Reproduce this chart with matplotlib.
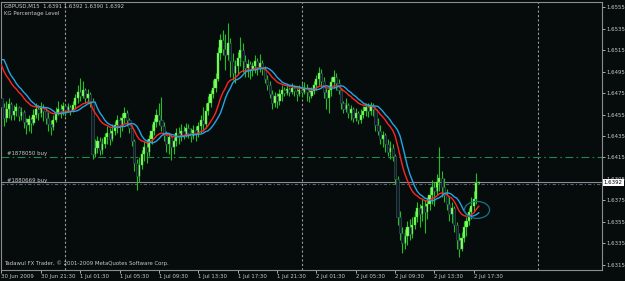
"""Recreate a MetaTrader GBPUSD M15 chart snapshot."""

import matplotlib

matplotlib.use("Agg")

import matplotlib.pyplot as plt
import numpy as np
from matplotlib import font_manager
from matplotlib.patches import Ellipse
from matplotlib.transforms import blended_transform_factory

SYMBOL = "GBPUSD,M15"
LAST_OHLC = [1.6391, 1.6392, 1.6390, 1.6392]
INDICATOR = "KG Percentage Level"
FOOTER = "Tadawul FX Trader, \u00a9 2001-2009 MetaQuotes Software Corp."

first_open = 1.6470
closes = [
    1.6462, 1.6452, 1.6460, 1.6465, 1.6455, 1.6458, 1.6462, 1.6454, 1.6457, 1.6448,
    1.6445, 1.6451, 1.6447, 1.6455, 1.6460, 1.6456, 1.6462, 1.6458, 1.6452, 1.6446,
    1.6443, 1.6450, 1.6456, 1.6460, 1.6458, 1.6463, 1.6459, 1.6462, 1.6458, 1.6464,
    1.6470, 1.6476, 1.6472, 1.6478, 1.6470, 1.6474, 1.6468, 1.6418, 1.6424, 1.6430,
    1.6422, 1.6428, 1.6434, 1.6438, 1.6432, 1.6440, 1.6445, 1.6450, 1.6444, 1.6452,
    1.6456, 1.6450, 1.6442, 1.6430, 1.6410, 1.6398, 1.6408, 1.6418, 1.6425, 1.6420,
    1.6432, 1.6440, 1.6448, 1.6455, 1.6450, 1.6444, 1.6436, 1.6428, 1.6434, 1.6425,
    1.6430, 1.6438, 1.6434, 1.6440, 1.6436, 1.6442, 1.6438, 1.6435, 1.6441, 1.6437,
    1.6444, 1.6450, 1.6446, 1.6458, 1.6466, 1.6474, 1.6480, 1.6488, 1.6512, 1.6524,
    1.6516, 1.6510, 1.6522, 1.6505, 1.6494, 1.6500, 1.6508, 1.6515, 1.6505, 1.6498,
    1.6502, 1.6496, 1.6500, 1.6505, 1.6499, 1.6503, 1.6497, 1.6488, 1.6482, 1.6474,
    1.6466, 1.6472, 1.6468, 1.6474, 1.6478, 1.6475, 1.6479, 1.6476, 1.6480, 1.6477,
    1.6474, 1.6478, 1.6476, 1.6480, 1.6476, 1.6472, 1.6477, 1.6482, 1.6488, 1.6494,
    1.6486, 1.6476, 1.6470, 1.6478, 1.6485, 1.6490, 1.6484, 1.6478, 1.6466, 1.6460,
    1.6464, 1.6456, 1.6460, 1.6452, 1.6456, 1.6450, 1.6455, 1.6458, 1.6462, 1.6458,
    1.6463, 1.6460, 1.6445, 1.6440, 1.6432, 1.6436, 1.6428, 1.6420, 1.6424, 1.6416,
    1.6395, 1.6360, 1.6345, 1.6335, 1.6342, 1.6350, 1.6344, 1.6352, 1.6360, 1.6368,
    1.6362, 1.6370, 1.6364, 1.6372, 1.6380, 1.6388, 1.6384, 1.6392, 1.6396, 1.6388,
    1.6380, 1.6372, 1.6362, 1.6368, 1.6352, 1.6338, 1.6330, 1.6340, 1.6350, 1.6356,
    1.6364, 1.6370, 1.6376, 1.6391, 1.6392,
]
highs = [
    1.6478, 1.6466, 1.6468, 1.6470, 1.6467, 1.6464, 1.6466, 1.6463, 1.6462, 1.6459,
    1.6452, 1.6455, 1.6453, 1.6460, 1.6466, 1.6464, 1.6467, 1.6465, 1.6461, 1.6457,
    1.6450, 1.6455, 1.6462, 1.6468, 1.6465, 1.6467, 1.6465, 1.6466, 1.6464, 1.6468,
    1.6474, 1.6482, 1.6489, 1.6486, 1.6480, 1.6479, 1.6476, 1.6470, 1.6432, 1.6435,
    1.6434, 1.6433, 1.6438, 1.6444, 1.6442, 1.6446, 1.6449, 1.6455, 1.6453, 1.6456,
    1.6462, 1.6459, 1.6452, 1.6445, 1.6432, 1.6414, 1.6415, 1.6422, 1.6430, 1.6432,
    1.6436, 1.6446, 1.6452, 1.6460, 1.6466, 1.6471, 1.6448, 1.6440, 1.6438, 1.6436,
    1.6434, 1.6442, 1.6443, 1.6446, 1.6444, 1.6447, 1.6446, 1.6442, 1.6445, 1.6444,
    1.6448, 1.6455, 1.6462, 1.6466, 1.6472, 1.6478, 1.6487, 1.6494, 1.6518, 1.6530,
    1.6534, 1.6530, 1.6540, 1.6526, 1.6512, 1.6506, 1.6513, 1.6527, 1.6522, 1.6510,
    1.6507, 1.6505, 1.6504, 1.6510, 1.6508, 1.6511, 1.6506, 1.6500, 1.6492, 1.6486,
    1.6478, 1.6476, 1.6475, 1.6479, 1.6482, 1.6481, 1.6483, 1.6481, 1.6484, 1.6482,
    1.6480, 1.6482, 1.6484, 1.6485, 1.6483, 1.6480, 1.6481, 1.6486, 1.6492, 1.6499,
    1.6497, 1.6490, 1.6480, 1.6482, 1.6490, 1.6496, 1.6494, 1.6488, 1.6480, 1.6468,
    1.6470, 1.6466, 1.6464, 1.6462, 1.6461, 1.6458, 1.6460, 1.6463, 1.6466, 1.6466,
    1.6467, 1.6466, 1.6462, 1.6452, 1.6445, 1.6440, 1.6438, 1.6432, 1.6430, 1.6428,
    1.6418, 1.6398, 1.6365, 1.6350, 1.6348, 1.6356, 1.6358, 1.6360, 1.6365, 1.6374,
    1.6372, 1.6376, 1.6375, 1.6378, 1.6388, 1.6394, 1.6392, 1.6400, 1.6425, 1.6402,
    1.6396, 1.6386, 1.6378, 1.6374, 1.6370, 1.6355, 1.6345, 1.6346, 1.6356, 1.6360,
    1.6368, 1.6378, 1.6384, 1.6401, 1.6392,
]
lows = [
    1.6441, 1.6444, 1.6448, 1.6452, 1.6450, 1.6450, 1.6454, 1.6449, 1.6450, 1.6442,
    1.6437, 1.6440, 1.6438, 1.6445, 1.6452, 1.6450, 1.6453, 1.6449, 1.6446, 1.6440,
    1.6436, 1.6441, 1.6448, 1.6455, 1.6452, 1.6455, 1.6454, 1.6457, 1.6455, 1.6457,
    1.6461, 1.6466, 1.6468, 1.6470, 1.6466, 1.6466, 1.6462, 1.6414, 1.6415, 1.6419,
    1.6417, 1.6418, 1.6424, 1.6428, 1.6427, 1.6430, 1.6436, 1.6438, 1.6434, 1.6440,
    1.6447, 1.6444, 1.6438, 1.6426, 1.6402, 1.6385, 1.6392, 1.6404, 1.6412, 1.6410,
    1.6416, 1.6428, 1.6436, 1.6443, 1.6445, 1.6440, 1.6430, 1.6420, 1.6418, 1.6413,
    1.6418, 1.6426, 1.6428, 1.6430, 1.6432, 1.6434, 1.6433, 1.6429, 1.6432, 1.6430,
    1.6434, 1.6438, 1.6440, 1.6442, 1.6455, 1.6462, 1.6470, 1.6476, 1.6486, 1.6506,
    1.6510, 1.6496, 1.6506, 1.6490, 1.6487, 1.6484, 1.6492, 1.6500, 1.6495, 1.6490,
    1.6490, 1.6488, 1.6491, 1.6494, 1.6492, 1.6495, 1.6492, 1.6484, 1.6478, 1.6470,
    1.6460, 1.6462, 1.6461, 1.6464, 1.6468, 1.6472, 1.6473, 1.6472, 1.6474, 1.6472,
    1.6468, 1.6472, 1.6471, 1.6474, 1.6468, 1.6467, 1.6470, 1.6474, 1.6478, 1.6482,
    1.6481, 1.6470, 1.6460, 1.6456, 1.6472, 1.6480, 1.6478, 1.6474, 1.6460, 1.6456,
    1.6457, 1.6452, 1.6450, 1.6448, 1.6449, 1.6446, 1.6447, 1.6452, 1.6454, 1.6453,
    1.6455, 1.6454, 1.6440, 1.6436, 1.6428, 1.6425, 1.6420, 1.6416, 1.6414, 1.6412,
    1.6390, 1.6352, 1.6338, 1.6326, 1.6330, 1.6334, 1.6338, 1.6340, 1.6348, 1.6355,
    1.6350, 1.6356, 1.6345, 1.6358, 1.6366, 1.6372, 1.6370, 1.6380, 1.6384, 1.6378,
    1.6374, 1.6366, 1.6356, 1.6354, 1.6346, 1.6330, 1.6322, 1.6328, 1.6336, 1.6342,
    1.6352, 1.6358, 1.6365, 1.6372, 1.6390,
]

# moving average: starting level, length and shift of the slow copy
ma_seed = 1.6506
ma_period = 16
ma_shift = 2

price_ticks = [
    1.6555, 1.6535, 1.6515, 1.6495, 1.6475, 1.6455, 1.6435,
    1.6415, 1.6395, 1.6375, 1.6355, 1.6335, 1.6315,
]
time_labels = [
    "30 Jun 2009", "30 Jun 21:30", "1 Jul 01:30", "1 Jul 05:30", "1 Jul 09:30",
    "1 Jul 13:30", "1 Jul 17:30", "1 Jul 21:30", "2 Jul 01:30", "2 Jul 05:30",
    "2 Jul 09:30", "2 Jul 13:30", "2 Jul 17:30",
]
bars_per_label = 16
day_breaks = [26, 122, 218]

order_levels = [1.6415, 1.6390]
order_names = ["#1878050 buy", "#1880669 buy"]
bid_price = 1.6392

BG = "#060c0c"
FG = "#c8c8c8"


def pick_font():
    """Narrow font if present, otherwise a smaller DejaVu."""
    try:
        font_manager.findfont("Liberation Sans Narrow", fallback_to_default=False)
        return ["Liberation Sans Narrow", "DejaVu Sans"], 4.9
    except ValueError:
        return ["DejaVu Sans"], 3.9


def smoothed(values, period, seed):
    alpha = 2.0 / (period + 1)
    level = seed
    out = []
    for value in values:
        level += alpha * (value - level)
        out.append(level)
    return np.array(out)


def main():
    family, fs = pick_font()
    plt.rcParams["font.family"] = family

    c = np.array(closes)
    h = np.array(highs)
    lo = np.array(lows)
    o = np.concatenate([[first_open], c[:-1]])
    x = np.arange(len(c))

    fig = plt.figure(figsize=(6.25, 2.81), dpi=100, facecolor=BG)
    ax = fig.add_axes([1 / 625, 11 / 281, 601 / 625, 268 / 281], facecolor=BG)
    ax.set_xlim(-0.2, 244.1)
    ax.set_ylim(1.63103, 1.65597)

    # day separators
    for b in day_breaks:
        ax.axvline(b, color="#9a9a9a", lw=0.8, ls=(0, (2, 2)), zorder=1)

    # order lines
    ax.axhline(order_levels[0], color="#1f8a4c", lw=0.8,
               ls=(0, (7, 3, 1.5, 3)), zorder=1)
    ax.axhline(order_levels[1], color="#4f6478", lw=0.8,
               ls=(0, (3, 2, 1, 2)), zorder=1)
    ax.axhline(bid_price, color="#8c8c8c", lw=0.8, zorder=1.2)
    for level, name in zip(order_levels, order_names):
        ax.annotate(name, xy=(0, level), xytext=(6, 1),
                    textcoords="offset pixels", color=FG, fontsize=fs,
                    va="bottom", ha="left")

    # candles
    bull = c >= o
    ax.vlines(x, np.minimum(lo, np.minimum(o, c)),
              np.maximum(h, np.maximum(o, c)),
              color="#20c020", lw=0.8, zorder=2)
    body = np.maximum(np.abs(c - o), 0.00006)
    ax.bar(x[bull], body[bull], bottom=np.minimum(o, c)[bull], width=0.9,
           color="#86ff5c", edgecolor="#3ad13a", lw=0.3, zorder=3)
    ax.bar(x[~bull], body[~bull], bottom=np.minimum(o, c)[~bull], width=0.9,
           color="#0e1c22", edgecolor="#3c5a66", lw=0.4, zorder=3)

    # moving averages
    red = smoothed(c, ma_period, ma_seed)
    blue = np.concatenate([np.full(ma_shift, ma_seed), red[:-ma_shift]])
    ax.plot(x, red, color="#ff2424", lw=1.0, zorder=4)
    ax.plot(x, blue, color="#22a6e6", lw=1.0, zorder=5)

    # hand-drawn circle
    ax.add_patch(Ellipse((193.3, 1.63662), 10.2, 0.00158, fill=False,
                         edgecolor="#1d7088", lw=0.9, zorder=6))

    for side in ax.spines.values():
        side.set_color("#8c8c8c")
        side.set_linewidth(0.8)

    ax.yaxis.tick_right()
    ax.set_yticks(price_ticks)
    ax.set_yticklabels([f"{p:.4f}" for p in price_ticks])
    ax.tick_params(axis="y", colors=FG, labelsize=fs, length=2.5, width=0.6,
                   pad=1.0)

    ax.set_xticks(range(0, bars_per_label * len(time_labels), bars_per_label))
    ax.set_xticklabels(time_labels)
    ax.tick_params(axis="x", colors=FG, labelsize=fs, length=2, width=0.6,
                   pad=0.8)
    for label in ax.get_xticklabels():
        label.set_horizontalalignment("left")

    trans = blended_transform_factory(ax.transAxes, ax.transData)
    ax.text(1.003, bid_price, f"{bid_price:.4f}", transform=trans,
            ha="left", va="center", fontsize=fs, color="black", clip_on=False,
            bbox=dict(facecolor="white", edgecolor="none", pad=0.8), zorder=10)

    head = f"{SYMBOL}  " + " ".join(f"{v:.4f}" for v in LAST_OHLC)
    fig.text(4 / 625, 1 - 6 / 281, head, color=FG, fontsize=fs, va="center")
    fig.text(4 / 625, 1 - 14 / 281, INDICATOR, color=FG, fontsize=fs,
             va="center")
    fig.text(4 / 625, 1 - 263 / 281, FOOTER, color=FG, fontsize=fs,
             va="center")

    fig.savefig("out.png", dpi=100, facecolor=BG)
    plt.close(fig)


if __name__ == "__main__":
    main()
